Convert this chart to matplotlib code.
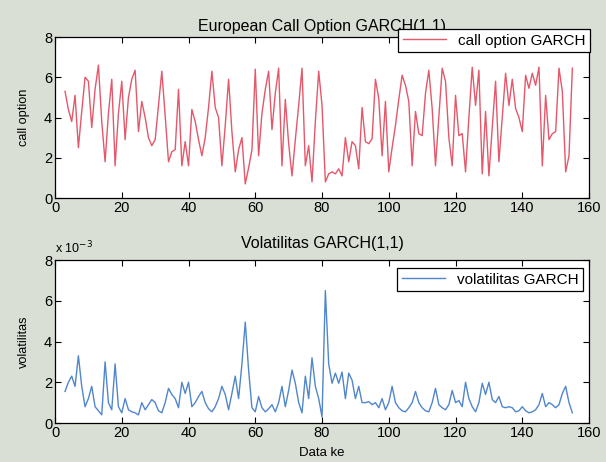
import numpy as np
import matplotlib
matplotlib.use("Agg")
import matplotlib.pyplot as plt

plt.rcParams['font.family'] = ['Liberation Sans', 'DejaVu Sans']

# European call option values (GARCH), data index starting at 3
call_option = [
    5.3, 4.4, 3.8, 5.1, 2.5, 4.3, 6.0, 5.8, 3.5, 5.4,   # 3-12
    6.6, 3.8, 1.8, 4.2, 5.9, 1.6, 4.2, 5.8, 2.9, 5.0,   # 13-22
    5.9, 6.35, 3.3, 4.8, 4.0, 3.0, 2.6, 2.9, 4.6, 6.3,  # 23-32
    4.1, 1.8, 2.3, 2.4, 5.4, 1.6, 2.8, 1.6, 4.4, 3.8,   # 33-42
    2.9, 2.1, 3.0, 4.5, 6.3, 4.5, 4.0, 1.6, 3.6, 5.9,   # 43-52
    3.3, 1.3, 2.4, 3.0, 0.7, 1.5, 2.4, 6.4, 2.1, 4.2,   # 53-62
    5.4, 6.3, 3.4, 5.2, 6.45, 1.6, 4.9, 2.7, 1.1, 2.9,  # 63-72
    4.6, 6.45, 1.6, 2.6, 0.8, 3.8, 6.3, 4.6, 0.8, 1.2,  # 73-82
    1.3, 1.2, 1.45, 1.1, 3.0, 1.8, 2.8, 2.6, 1.45, 4.5, # 83-92
    2.8, 2.7, 2.95, 5.9, 4.95, 2.1, 4.8, 1.3, 2.5, 3.6, # 93-102
    4.9, 6.1, 5.6, 4.8, 1.6, 4.3, 3.2, 3.1, 5.2, 6.35,  # 103-112
    4.45, 1.6, 4.0, 6.45, 5.8, 3.0, 1.6, 5.1, 3.1, 3.2, # 113-122
    1.3, 4.0, 6.5, 4.6, 6.35, 1.2, 4.3, 1.1, 3.5, 5.8,  # 123-132
    1.8, 4.0, 6.2, 4.6, 5.9, 4.45, 4.0, 3.3, 6.1, 5.45, # 133-142
    6.2, 5.6, 6.5, 1.6, 5.1, 2.9, 3.2, 3.3, 6.45, 5.3,  # 143-152
    1.3, 2.1, 6.45,                                     # 153-155
]

# GARCH volatility (units of 1e-3), data index starting at 3
volatility_e3 = [
    1.55, 2.0, 2.3, 1.8, 3.3, 1.8, 0.8, 1.2, 1.8, 0.8,   # 3-12
    0.6, 0.4, 3.0, 1.0, 0.65, 2.9, 0.8, 0.5, 1.2, 0.65,  # 13-22
    0.55, 0.5, 0.4, 1.0, 0.65, 0.9, 1.15, 1.0, 0.6, 0.5, # 23-32
    1.0, 1.7, 1.4, 1.2, 0.75, 2.0, 1.45, 2.0, 0.8, 1.0,  # 33-42
    1.3, 1.55, 1.0, 0.7, 0.55, 0.8, 1.2, 1.8, 1.4, 0.65, # 43-52
    1.45, 2.3, 1.2, 2.9, 4.95, 2.6, 0.75, 0.55, 1.3, 0.75, # 53-62
    0.55, 0.7, 0.9, 0.55, 1.0, 1.8, 0.8, 1.6, 2.6, 1.95, # 63-72
    1.0, 0.5, 2.3, 1.2, 3.2, 1.8, 1.2, 0.3, 6.5, 2.9,    # 73-82
    1.95, 2.45, 1.95, 2.5, 1.2, 2.45, 2.1, 1.2, 1.8, 1.0, # 83-92
    1.0, 1.05, 0.9, 1.0, 0.75, 1.2, 0.65, 1.0, 1.8, 1.0, # 93-102
    0.75, 0.6, 0.55, 0.75, 1.0, 1.55, 1.0, 0.75, 0.6, 0.55, # 103-112
    1.0, 1.7, 0.9, 0.75, 0.65, 0.9, 1.6, 1.0, 1.1, 0.8,  # 113-122
    2.0, 1.2, 0.8, 0.55, 1.0, 1.95, 1.4, 2.0, 1.15, 1.0, # 123-132
    1.3, 0.8, 0.75, 0.8, 0.75, 0.55, 0.6, 0.8, 0.6, 0.5, # 133-142
    0.55, 0.65, 0.9, 1.45, 0.8, 1.0, 0.9, 0.75, 0.9, 1.45, # 143-152
    1.8, 1.0, 0.5,                                       # 153-155
]

start_index = 3
x_ticks = [0, 20, 40, 60, 80, 100, 120, 140, 160]
y_ticks = [0, 2, 4, 6, 8]

x_call = np.arange(start_index, start_index + len(call_option))
x_vol = np.arange(start_index, start_index + len(volatility_e3))
vol = np.array(volatility_e3) * 1e-3

bg = '#dadfd6'
fig = plt.figure(figsize=(6.06, 4.62), dpi=100, facecolor=bg)

ax1 = fig.add_axes([0.0908, 0.5714, 0.8812, 0.3485])
ax2 = fig.add_axes([0.0908, 0.0844, 0.8812, 0.3528])

def style(ax):
    ax.set_facecolor('white')
    ax.set_xlim(0, 160)
    ax.set_xticks(x_ticks)
    ax.tick_params(direction='in', top=True, right=True, length=4,
                   width=0.8, labelsize=10.5, pad=2, colors='black')
    for s in ax.spines.values():
        s.set_linewidth(0.9)
        s.set_color('black')

ax1.plot(x_call, call_option, color='#e5576a', lw=1.0, label='call option GARCH')
style(ax1)
ax1.set_ylim(0, 8)
ax1.set_yticks(y_ticks)
ax1.set_title('European Call Option GARCH(1,1)', fontsize=11.5, pad=4)
ax1.set_ylabel('call option', fontsize=9.2, labelpad=10)
leg1 = ax1.legend(loc='upper right', bbox_to_anchor=(0.9736, 0.937),
                  bbox_transform=fig.transFigure, fontsize=11,
                  fancybox=False, framealpha=1, edgecolor='black',
                  handlelength=2.8, borderpad=0.3, borderaxespad=0)
leg1.get_frame().set_linewidth(0.9)
leg1.set_zorder(10)

ax2.plot(x_vol, vol, color='#5086cc', lw=1.0, label='volatilitas GARCH')
style(ax2)
ax2.set_ylim(0, 8e-3)
ax2.set_yticks([v * 1e-3 for v in y_ticks])
ax2.set_yticklabels([str(v) for v in y_ticks])
ax2.set_title('Volatilitas GARCH(1,1)', fontsize=11.5, pad=9)
ax2.set_ylabel('volatilitas', fontsize=9.2, labelpad=10)
ax2.set_xlabel('Data ke', fontsize=9.5, labelpad=5)
ax2.text(0.0, 1.02, r'x 10$^{-3}$', transform=ax2.transAxes,
         fontsize=9, ha='left', va='bottom')
leg2 = ax2.legend(loc='upper right', bbox_to_anchor=(0.962, 0.42),
                  bbox_transform=fig.transFigure, fontsize=11,
                  fancybox=False, framealpha=1, edgecolor='black',
                  handlelength=2.8, borderpad=0.3, borderaxespad=0)
leg2.get_frame().set_linewidth(0.9)

fig.savefig('out.png', dpi=100, facecolor=bg)
